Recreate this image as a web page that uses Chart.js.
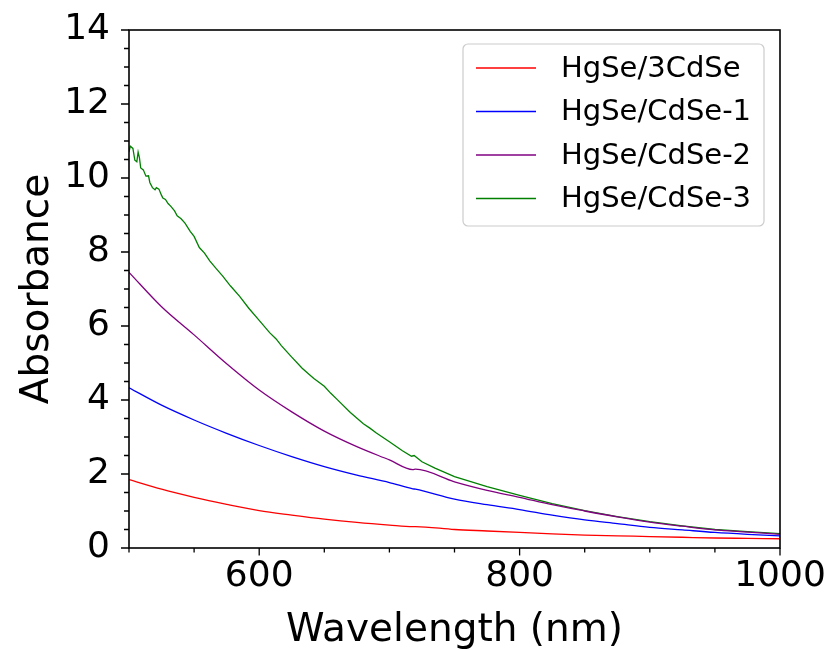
<!DOCTYPE html>
<html>
<head>
<meta charset="utf-8">
<script src="https://cdn.jsdelivr.net/npm/chart.js@4"></script>
<style>
  html, body { margin: 0; padding: 0; background: #ffffff; }
  canvas { display: block; }
</style>
</head>
<body>
<canvas id="chart" width="831" height="649"></canvas>
<script>
// Shared wavelength grid (nm) for the smooth spectra
const wavelengths = [500, 525, 550, 575, 600, 625, 650, 675, 700, 718, 720, 750, 775, 800, 825, 850, 875, 900, 925, 950, 975, 1000];
const absHgSe3CdSe = [1.85, 1.59, 1.37, 1.18, 1.01, 0.89, 0.78, 0.69, 0.62, 0.58, 0.58, 0.50, 0.46, 0.42, 0.38, 0.35, 0.33, 0.31, 0.29, 0.27, 0.26, 0.25];
const absHgSeCdSe1 = [4.33, 3.86, 3.46, 3.10, 2.77, 2.47, 2.20, 1.97, 1.77, 1.60, 1.59, 1.32, 1.17, 1.04, 0.89, 0.76, 0.66, 0.56, 0.49, 0.42, 0.37, 0.33];
const absHgSeCdSe2 = [7.45, 6.52, 5.76, 4.98, 4.27, 3.68, 3.16, 2.74, 2.38, 2.12, 2.13, 1.79, 1.56, 1.37, 1.17, 1.00, 0.84, 0.70, 0.59, 0.49, 0.43, 0.37];

// The thickest sample is noisy at short wavelengths, so it is sampled more densely
const wavelengthsCdSe3 = [500, 501, 503, 504.5, 506, 507, 508, 509, 511, 513, 515, 516, 518, 520, 521, 523, 525, 526, 528, 530, 532, 535, 537, 540, 543, 547, 550, 554, 558, 562, 567, 572, 578, 585, 592, 600, 608, 613, 617, 625, 633, 638, 642, 650, 655, 660, 670, 680, 685, 690, 700, 710, 717, 719, 725, 735, 750, 775, 800, 825, 850, 875, 900, 925, 950, 975, 1000];
const absHgSeCdSe3 = [10.70, 10.86, 10.80, 10.48, 10.44, 10.70, 10.55, 10.27, 10.22, 10.05, 10.06, 9.88, 9.74, 9.68, 9.74, 9.70, 9.53, 9.46, 9.42, 9.31, 9.24, 9.11, 8.98, 8.90, 8.78, 8.56, 8.42, 8.12, 7.97, 7.76, 7.55, 7.35, 7.08, 6.80, 6.48, 6.15, 5.82, 5.65, 5.47, 5.16, 4.86, 4.70, 4.58, 4.37, 4.18, 4.01, 3.66, 3.36, 3.24, 3.11, 2.87, 2.63, 2.48, 2.50, 2.33, 2.16, 1.93, 1.66, 1.42, 1.20, 1.01, 0.85, 0.71, 0.60, 0.50, 0.44, 0.39];

const seriesNames = ['HgSe/3CdSe', 'HgSe/CdSe-1', 'HgSe/CdSe-2', 'HgSe/CdSe-3'];
const seriesColors = ['#ff0000', '#0000ff', '#800080', '#008000'];

// Axis ranges and tick layout
const xRange = [500, 1000];
const yRange = [0, 14];
const xMinorStep = 50, xMajorStep = 200;
const yMinorStep = 0.5, yMajorStep = 2;

function toPoints(xs, ys) {
  return xs.map((x, i) => ({ x: x, y: ys[i] }));
}

const FONT = "'DejaVu Sans', sans-serif";

// Box frame plus outward major/minor ticks on the bottom and left edges
const frameTicks = {
  id: 'frameTicks',
  afterDatasetsDraw(chart) {
    const { ctx, chartArea: a, scales: { x, y } } = chart;
    ctx.save();
    ctx.strokeStyle = '#000000';
    ctx.lineWidth = 1.6;
    ctx.strokeRect(a.left, a.top, a.right - a.left, a.bottom - a.top);
    ctx.lineWidth = 1.3;
    ctx.beginPath();
    for (let v = xRange[0]; v <= xRange[1] + 1e-9; v += xMinorStep) {
      const px = x.getPixelForValue(v);
      const len = (v % xMajorStep === 0) ? 7.5 : 4.5;
      ctx.moveTo(px, a.bottom);
      ctx.lineTo(px, a.bottom + len);
    }
    for (let v = yRange[0]; v <= yRange[1] + 1e-9; v += yMinorStep) {
      const py = y.getPixelForValue(v);
      const len = (Math.abs(v % yMajorStep) < 1e-9) ? 8 : 5;
      ctx.moveTo(a.left, py);
      ctx.lineTo(a.left - len, py);
    }
    ctx.stroke();
    ctx.restore();
  }
};

// Legend box in the upper right of the plot
const insetLegend = {
  id: 'insetLegend',
  afterDraw(chart) {
    const { ctx } = chart;
    const bx = 463, by = 44, bw = 301, bh = 182, r = 5;
    ctx.save();
    ctx.beginPath();
    ctx.moveTo(bx + r, by);
    ctx.arcTo(bx + bw, by, bx + bw, by + bh, r);
    ctx.arcTo(bx + bw, by + bh, bx, by + bh, r);
    ctx.arcTo(bx, by + bh, bx, by, r);
    ctx.arcTo(bx, by, bx + bw, by, r);
    ctx.closePath();
    ctx.fillStyle = 'rgba(255,255,255,0.8)';
    ctx.fill();
    ctx.strokeStyle = '#cccccc';
    ctx.lineWidth = 1.2;
    ctx.stroke();
    ctx.font = '29px ' + FONT;
    ctx.textBaseline = 'middle';
    ctx.textAlign = 'left';
    chart.data.datasets.forEach((ds, i) => {
      const yy = 68 + i * 43.5;
      ctx.strokeStyle = ds.borderColor;
      ctx.lineWidth = 1.3;
      ctx.beginPath();
      ctx.moveTo(476, yy);
      ctx.lineTo(536, yy);
      ctx.stroke();
      ctx.fillStyle = '#000000';
      ctx.fillText(ds.label, 561, yy + 1);
    });
    ctx.restore();
  }
};

const datasets = [
  { label: seriesNames[0], data: toPoints(wavelengths, absHgSe3CdSe), borderColor: seriesColors[0], cubicInterpolationMode: 'monotone' },
  { label: seriesNames[1], data: toPoints(wavelengths, absHgSeCdSe1), borderColor: seriesColors[1], cubicInterpolationMode: 'monotone' },
  { label: seriesNames[2], data: toPoints(wavelengths, absHgSeCdSe2), borderColor: seriesColors[2], cubicInterpolationMode: 'monotone' },
  { label: seriesNames[3], data: toPoints(wavelengthsCdSe3, absHgSeCdSe3), borderColor: seriesColors[3], tension: 0 }
].map(d => Object.assign({ borderWidth: 1.3, pointRadius: 0, fill: false }, d));

new Chart(document.getElementById('chart'), {
  type: 'line',
  data: { datasets: datasets },
  options: {
    responsive: false,
    animation: false,
    devicePixelRatio: 1,
    layout: { padding: { left: 0, top: 30, right: 51, bottom: 0 } },
    plugins: { legend: { display: false }, tooltip: { enabled: false } },
    scales: {
      x: {
        type: 'linear',
        min: xRange[0], max: xRange[1],
        afterFit(scale) { scale.height = 101; },
        // tick marks are drawn by the frameTicks plugin; this only reserves the label gap
        grid: { display: true, drawOnChartArea: false, drawTicks: true, tickLength: 7, tickColor: 'rgba(0,0,0,0)' },
        border: { display: false },
        ticks: {
          stepSize: xMinorStep,
          autoSkip: false,
          maxRotation: 0,
          padding: 0,
          color: '#000000',
          font: { family: FONT, size: 36 },
          callback: v => (v % xMajorStep === 0 ? String(v) : '')
        },
        title: {
          display: true, text: 'Wavelength (nm)', color: '#000000',
          font: { family: FONT, size: 39, lineHeight: 0.95 }, padding: { top: 0, bottom: 0 }
        }
      },
      y: {
        type: 'linear',
        min: yRange[0], max: yRange[1],
        afterFit(scale) { scale.width = 129; },
        grid: { display: true, drawOnChartArea: false, drawTicks: true, tickLength: 19, tickColor: 'rgba(0,0,0,0)' },
        border: { display: false },
        ticks: {
          stepSize: yMajorStep,
          padding: 0,
          color: '#000000',
          font: { family: FONT, size: 36 }
        },
        title: {
          display: true, text: 'Absorbance', color: '#000000',
          font: { family: FONT, size: 39 }, padding: { top: 14, bottom: 0 }
        }
      }
    }
  },
  plugins: [frameTicks, insetLegend]
});
</script>
</body>
</html>
